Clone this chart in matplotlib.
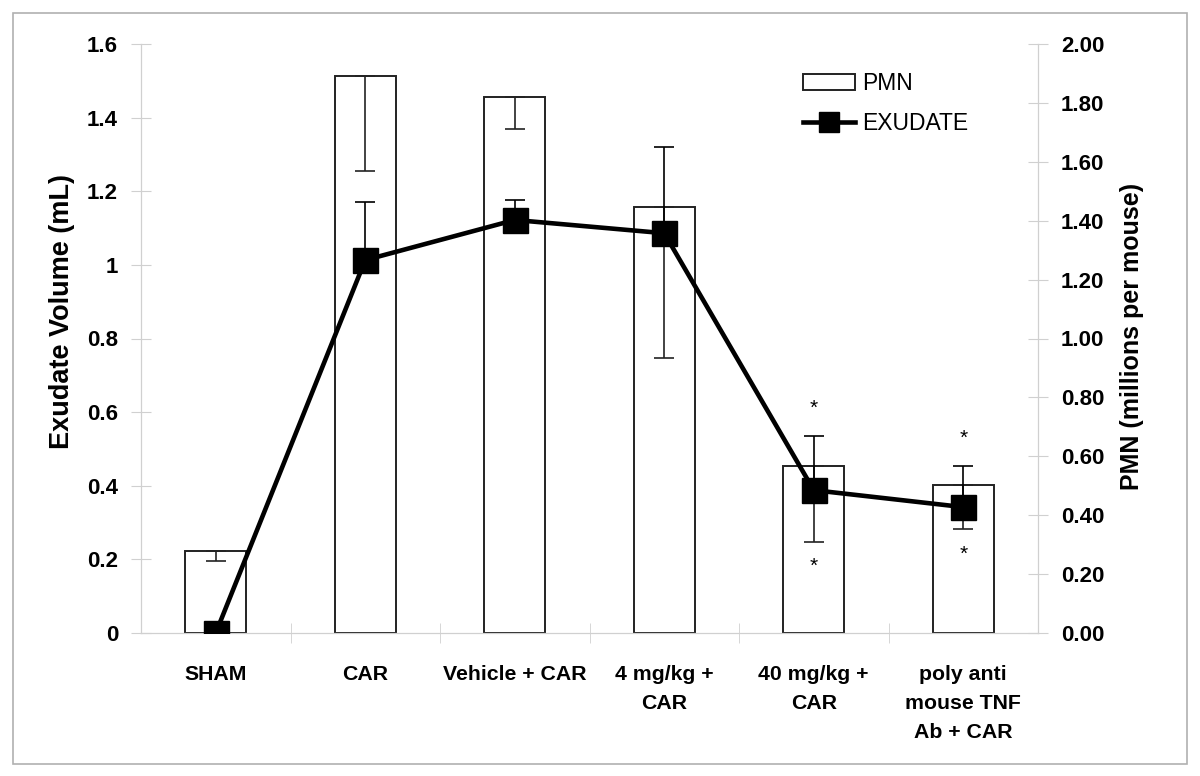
import numpy as np
import matplotlib
matplotlib.use("Agg")
import matplotlib.pyplot as plt
from matplotlib.patches import Patch, Rectangle
from matplotlib.ticker import FuncFormatter, FixedLocator

# Datos
grupos = ["SHAM", "CAR", "Vehicle + CAR", "4 mg/kg +\nCAR", "40 mg/kg +\nCAR",
          "poly anti\nmouse TNF\nAb + CAR"]
pmn = [0.28, 1.89, 1.82, 1.445, 0.567, 0.503]          # millones por ratón (eje derecho)
pmn_err = [0.037, 0.32, 0.11, 0.51, 0.258, 0.149]
exudado = [0.0, 1.013, 1.122, 1.086, 0.388, 0.342]      # mL (eje izquierdo)
exudado_err = [0.0, 0.158, 0.054, 0.234, 0.147, 0.111]
# asteriscos de significancia (grupo, altura en mL)
asteriscos = [(4, 0.61), (4, 0.18), (5, 0.53), (5, 0.215)]

plt.rcParams['font.family'] = ['Liberation Sans', 'DejaVu Sans']

fig = plt.figure(figsize=(12, 7.76), dpi=100)
ax = fig.add_axes([141/1200, 1-633/776, (1038-141)/1200, (633-44)/776])
ax2 = ax.twinx()
ax.set_zorder(ax2.get_zorder() + 1)
ax.patch.set_visible(False)

x = np.arange(len(grupos))
gris = '#d0d0d0'

# Barras PMN (eje derecho), error solo hacia abajo
ax2.bar(x, pmn, width=0.41, color='white', edgecolor='#222222', linewidth=1.4, zorder=2)
ax2.errorbar(x, pmn, yerr=[pmn_err, np.zeros(len(pmn))], fmt='none', ecolor='#222222',
             elinewidth=1.2, capsize=7, capthick=1.2, zorder=3)

# Línea de exudado (eje izquierdo), error solo hacia arriba
ax.errorbar(x, exudado, yerr=[np.zeros(len(exudado)), exudado_err], fmt='none',
            ecolor='black', elinewidth=1.2, capsize=7, capthick=1.2, zorder=2)
linea, = ax.plot(x, exudado, color='black', linewidth=3.3, marker='s', markersize=18,
                 zorder=4)

for g, h in asteriscos:
    ax.text(g, h, '*', ha='center', va='center', fontsize=15)

ax.set_xlim(-0.5, len(grupos) - 0.5)
ax.set_ylim(0, 1.6)
ax2.set_ylim(0, 2.0)

ax.set_yticks(np.arange(0, 1.61, 0.2))
ax.yaxis.set_major_formatter(FuncFormatter(lambda v, p: f"{v:g}"))
ax2.set_yticks(np.arange(0, 2.01, 0.2))
ax2.yaxis.set_major_formatter(FuncFormatter(lambda v, p: f"{v:.2f}"))

ax.set_xticks(x)
ax.set_xticklabels(grupos, fontweight='bold', fontsize=15.3, linespacing=1.68)
ax.xaxis.set_minor_locator(FixedLocator(np.arange(0.5, len(grupos) - 0.5, 1)))
ax.tick_params(axis='x', which='major', length=0, pad=23)
ax.tick_params(axis='x', which='minor', length=14, direction='inout', color=gris)
ax2.tick_params(axis='x', which='both', length=0)

for a in (ax, ax2):
    a.tick_params(axis='y', length=15, direction='inout', color=gris, pad=9, labelsize=16)
    for lab in a.get_yticklabels():
        lab.set_fontweight('bold')
    for s in a.spines.values():
        s.set_color(gris)
    a.spines['top'].set_visible(False)

ax.set_ylabel('Exudate Volume (mL)', fontsize=19.5, fontweight='bold', va='center')
ax.yaxis.set_label_coords(-0.088, 0.546)
ax2.set_ylabel('PMN (millions per mouse)', fontsize=18, fontweight='bold', va='center',
               rotation=90)
ax2.yaxis.set_label_coords(1.105, 0.503)

manejadores = [Patch(facecolor='white', edgecolor='#222222', linewidth=1.4), linea]
ax.legend(manejadores, ['PMN', 'EXUDATE'], loc='upper left', bbox_to_anchor=(0.725, 0.972),
          frameon=False, fontsize=16.5, handlelength=2.3, handletextpad=0.3,
          borderpad=0, labelspacing=0.75, markerscale=0.8)

# Marco gris exterior
fig.add_artist(Rectangle((13/1200, 12/776), 1174/1200, 751/776, transform=fig.transFigure,
                         fill=False, edgecolor='#b0b0b0', linewidth=1.2))

fig.savefig('out.png', dpi=100)
